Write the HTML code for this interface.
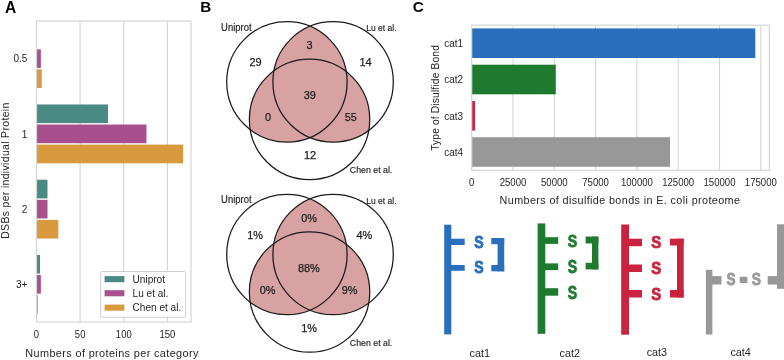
<!DOCTYPE html>
<html><head><meta charset="utf-8"><style>
html,body{margin:0;padding:0;background:#fff;width:784px;height:360px;overflow:hidden}
svg{display:block;will-change:transform}
text{font-family:"Liberation Sans",sans-serif}
</style></head><body>
<svg width="784" height="360" viewBox="0 0 784 360">
<rect width="784" height="360" fill="#fff"/>
<text x="5" y="12.9" font-size="15.6" font-weight="bold" fill="#000">A</text>
<line x1="80.13" y1="21.0" x2="80.13" y2="322.0" stroke="#d5d5d5" stroke-width="1.1"/>
<line x1="123.77" y1="21.0" x2="123.77" y2="322.0" stroke="#d5d5d5" stroke-width="1.1"/>
<line x1="167.40" y1="21.0" x2="167.40" y2="322.0" stroke="#d5d5d5" stroke-width="1.1"/>
<rect x="36.50" y="49.29" width="4.36" height="18.67" fill="#aa4f8d"/>
<rect x="36.50" y="69.36" width="5.24" height="18.67" fill="#d99a3d"/>
<rect x="36.50" y="104.48" width="71.56" height="18.67" fill="#4b8a83"/>
<rect x="36.50" y="124.54" width="109.96" height="18.67" fill="#aa4f8d"/>
<rect x="36.50" y="144.61" width="146.61" height="18.67" fill="#d99a3d"/>
<rect x="36.50" y="179.72" width="11.00" height="18.67" fill="#4b8a83"/>
<rect x="36.50" y="199.79" width="11.00" height="18.67" fill="#aa4f8d"/>
<rect x="36.50" y="219.86" width="21.82" height="18.67" fill="#d99a3d"/>
<rect x="36.50" y="254.97" width="3.49" height="18.67" fill="#4b8a83"/>
<rect x="36.50" y="275.04" width="4.36" height="18.67" fill="#aa4f8d"/>
<rect x="36.50" y="295.11" width="1.40" height="18.67" fill="#d99a3d"/>
<rect x="36.5" y="21.0" width="154.5" height="301.0" fill="none" stroke="#d5d5d5" stroke-width="1.2"/>
<text x="27.4" y="62.33" font-size="10" text-anchor="end" fill="#262626">0.5</text>
<text x="27.4" y="137.57" font-size="10" text-anchor="end" fill="#262626">1</text>
<text x="27.4" y="212.82" font-size="10" text-anchor="end" fill="#262626">2</text>
<text x="27.4" y="288.07" font-size="10" text-anchor="end" fill="#262626">3+</text>
<text transform="translate(36.50,338.4) scale(1,1.12)" font-size="9.5" text-anchor="middle" fill="#262626">0</text>
<text transform="translate(80.13,338.4) scale(1,1.12)" font-size="9.5" text-anchor="middle" fill="#262626">50</text>
<text transform="translate(123.77,338.4) scale(1,1.12)" font-size="9.5" text-anchor="middle" fill="#262626">100</text>
<text transform="translate(167.40,338.4) scale(1,1.12)" font-size="9.5" text-anchor="middle" fill="#262626">150</text>
<text x="25.3" y="356.9" font-size="10.9" letter-spacing="0.37" fill="#262626">Numbers of proteins per category</text>
<text transform="translate(9.2,170.6) rotate(-90)" x="0" y="0" font-size="10.5" letter-spacing="0.32" text-anchor="middle" fill="#262626">DSBs per individual Protein</text>
<rect x="100.7" y="271.5" width="84.9" height="45.8" rx="1.5" fill="#fff" fill-opacity="0.95" stroke="#cfcfcf" stroke-width="1"/>
<rect x="104.6" y="276.1" width="19.8" height="6.1" fill="#4b8a83"/>
<text x="132.6" y="282.7" font-size="10.05" fill="#262626">Uniprot</text>
<rect x="104.6" y="290.2" width="19.8" height="6.1" fill="#aa4f8d"/>
<text x="132.6" y="296.9" font-size="10.05" fill="#262626">Lu et al.</text>
<rect x="104.6" y="304.6" width="19.8" height="6.1" fill="#d99a3d"/>
<text x="132.6" y="310.9" font-size="10.05" fill="#262626">Chen et al.</text>
<text x="200.2" y="12.2" font-size="15.2" font-weight="bold" fill="#000">B</text>
<defs><clipPath id="v0L"><circle cx="286.9" cy="81.9" r="60.2"/></clipPath><clipPath id="v0R"><circle cx="333.1" cy="81.9" r="60.2"/></clipPath></defs>
<g clip-path="url(#v0L)"><circle cx="333.1" cy="81.9" r="60.2" fill="#d9a2a2"/><circle cx="309.55" cy="119.4" r="60.2" fill="#d9a2a2"/></g>
<g clip-path="url(#v0R)"><circle cx="309.55" cy="119.4" r="60.2" fill="#d9a2a2"/></g>
<circle cx="286.9" cy="81.9" r="60.2" fill="none" stroke="#1a1a1a" stroke-width="1.25"/>
<circle cx="333.1" cy="81.9" r="60.2" fill="none" stroke="#1a1a1a" stroke-width="1.25"/>
<circle cx="309.55" cy="119.4" r="60.2" fill="none" stroke="#1a1a1a" stroke-width="1.25"/>
<text x="309.6" y="49.10" font-size="10.9" text-anchor="middle" fill="#1e1e1e" stroke="#1e1e1e" stroke-width="0.25">3</text>
<text x="255.6" y="65.90" font-size="10.9" text-anchor="middle" fill="#1e1e1e" stroke="#1e1e1e" stroke-width="0.25">29</text>
<text x="365.6" y="65.90" font-size="10.9" text-anchor="middle" fill="#1e1e1e" stroke="#1e1e1e" stroke-width="0.25">14</text>
<text x="309.75" y="99.15" font-size="10.9" text-anchor="middle" fill="#1e1e1e" stroke="#1e1e1e" stroke-width="0.25">39</text>
<text x="268" y="121.15" font-size="10.9" text-anchor="middle" fill="#1e1e1e" stroke="#1e1e1e" stroke-width="0.25">0</text>
<text x="350.75" y="121.15" font-size="10.9" text-anchor="middle" fill="#1e1e1e" stroke="#1e1e1e" stroke-width="0.25">55</text>
<text x="310" y="159.20" font-size="10.9" text-anchor="middle" fill="#1e1e1e" stroke="#1e1e1e" stroke-width="0.25">12</text>
<text transform="translate(221.1,30.70) scale(1,1.1)" font-size="9.45" fill="#1e1e1e" stroke="#1e1e1e" stroke-width="0.15">Uniprot</text>
<text transform="translate(366.3,30.90) scale(1,1.1)" font-size="8.5" fill="#1e1e1e" stroke="#1e1e1e" stroke-width="0.15">Lu et al.</text>
<text transform="translate(349.8,173.00) scale(1,1.12)" font-size="8.8" fill="#1e1e1e" stroke="#1e1e1e" stroke-width="0.15">Chen et al.</text>
<defs><clipPath id="v172L"><circle cx="286.9" cy="254.5" r="60.2"/></clipPath><clipPath id="v172R"><circle cx="333.1" cy="254.5" r="60.2"/></clipPath></defs>
<g clip-path="url(#v172L)"><circle cx="333.1" cy="254.5" r="60.2" fill="#d9a2a2"/><circle cx="309.55" cy="292.0" r="60.2" fill="#d9a2a2"/></g>
<g clip-path="url(#v172R)"><circle cx="309.55" cy="292.0" r="60.2" fill="#d9a2a2"/></g>
<circle cx="286.9" cy="254.5" r="60.2" fill="none" stroke="#1a1a1a" stroke-width="1.25"/>
<circle cx="333.1" cy="254.5" r="60.2" fill="none" stroke="#1a1a1a" stroke-width="1.25"/>
<circle cx="309.55" cy="292.0" r="60.2" fill="none" stroke="#1a1a1a" stroke-width="1.25"/>
<text x="309" y="221.90" font-size="10.9" text-anchor="middle" fill="#1e1e1e" stroke="#1e1e1e" stroke-width="0.25">0%</text>
<text x="255" y="239.10" font-size="10.9" text-anchor="middle" fill="#1e1e1e" stroke="#1e1e1e" stroke-width="0.25">1%</text>
<text x="364.4" y="239.10" font-size="10.9" text-anchor="middle" fill="#1e1e1e" stroke="#1e1e1e" stroke-width="0.25">4%</text>
<text x="308.9" y="271.80" font-size="10.9" text-anchor="middle" fill="#1e1e1e" stroke="#1e1e1e" stroke-width="0.25">88%</text>
<text x="267.5" y="293.90" font-size="10.9" text-anchor="middle" fill="#1e1e1e" stroke="#1e1e1e" stroke-width="0.25">0%</text>
<text x="349.5" y="293.90" font-size="10.9" text-anchor="middle" fill="#1e1e1e" stroke="#1e1e1e" stroke-width="0.25">9%</text>
<text x="309.2" y="331.90" font-size="10.9" text-anchor="middle" fill="#1e1e1e" stroke="#1e1e1e" stroke-width="0.25">1%</text>
<text transform="translate(221.1,203.30) scale(1,1.1)" font-size="9.45" fill="#1e1e1e" stroke="#1e1e1e" stroke-width="0.15">Uniprot</text>
<text transform="translate(366.3,203.50) scale(1,1.1)" font-size="8.5" fill="#1e1e1e" stroke="#1e1e1e" stroke-width="0.15">Lu et al.</text>
<text transform="translate(349.8,345.60) scale(1,1.12)" font-size="8.8" fill="#1e1e1e" stroke="#1e1e1e" stroke-width="0.15">Chen et al.</text>
<text x="412.8" y="12.2" font-size="15.2" font-weight="bold" fill="#000">C</text>
<line x1="513.00" y1="25.2" x2="513.00" y2="170.3" stroke="#d5d5d5" stroke-width="1.1"/>
<line x1="554.30" y1="25.2" x2="554.30" y2="170.3" stroke="#d5d5d5" stroke-width="1.1"/>
<line x1="595.60" y1="25.2" x2="595.60" y2="170.3" stroke="#d5d5d5" stroke-width="1.1"/>
<line x1="636.90" y1="25.2" x2="636.90" y2="170.3" stroke="#d5d5d5" stroke-width="1.1"/>
<line x1="678.20" y1="25.2" x2="678.20" y2="170.3" stroke="#d5d5d5" stroke-width="1.1"/>
<line x1="719.50" y1="25.2" x2="719.50" y2="170.3" stroke="#d5d5d5" stroke-width="1.1"/>
<line x1="760.80" y1="25.2" x2="760.80" y2="170.3" stroke="#d5d5d5" stroke-width="1.1"/>
<rect x="471.7" y="28.40" width="283.60" height="29.6" fill="#2a6fbb"/>
<rect x="471.7" y="64.70" width="84.10" height="29.6" fill="#1e7a2f"/>
<rect x="471.7" y="101.00" width="3.30" height="29.6" fill="#c9233f"/>
<rect x="471.7" y="137.20" width="198.30" height="29.6" fill="#989898"/>
<rect x="471.7" y="25.2" width="297.70" height="145.10" fill="none" stroke="#d5d5d5" stroke-width="1.2"/>
<text transform="translate(463.0,47.04) scale(1,1.1)" font-size="9.9" text-anchor="end" fill="#262626">cat1</text>
<text transform="translate(463.0,83.31) scale(1,1.1)" font-size="9.9" text-anchor="end" fill="#262626">cat2</text>
<text transform="translate(463.0,119.59) scale(1,1.1)" font-size="9.9" text-anchor="end" fill="#262626">cat3</text>
<text transform="translate(463.0,155.86) scale(1,1.1)" font-size="9.9" text-anchor="end" fill="#262626">cat4</text>
<text transform="translate(471.70,185.8) scale(1,1.15)" font-size="9.6" text-anchor="middle" fill="#262626">0</text>
<text transform="translate(513.00,185.8) scale(1,1.15)" font-size="9.6" text-anchor="middle" fill="#262626">25000</text>
<text transform="translate(554.30,185.8) scale(1,1.15)" font-size="9.6" text-anchor="middle" fill="#262626">50000</text>
<text transform="translate(595.60,185.8) scale(1,1.15)" font-size="9.6" text-anchor="middle" fill="#262626">75000</text>
<text transform="translate(636.90,185.8) scale(1,1.15)" font-size="9.6" text-anchor="middle" fill="#262626">100000</text>
<text transform="translate(678.20,185.8) scale(1,1.15)" font-size="9.6" text-anchor="middle" fill="#262626">125000</text>
<text transform="translate(719.50,185.8) scale(1,1.15)" font-size="9.6" text-anchor="middle" fill="#262626">150000</text>
<text transform="translate(760.80,185.8) scale(1,1.15)" font-size="9.6" text-anchor="middle" fill="#262626">175000</text>
<text x="499.6" y="204.1" font-size="10.8" letter-spacing="0.38" fill="#262626">Numbers of disulfide bonds in E. coli proteome</text>
<text transform="translate(438.9,97.9) rotate(-90)" font-size="10.3" letter-spacing="0.13" text-anchor="middle" fill="#262626">Type of Disulfide Bond</text>
<rect x="444.20" y="224.70" width="7.10" height="109.70" fill="#2a6fbb"/>
<rect x="451.00" y="238.70" width="13.70" height="6.30" fill="#2a6fbb"/>
<rect x="451.00" y="265.00" width="13.70" height="5.80" fill="#2a6fbb"/>
<text transform="translate(478.95,247.54) scale(0.875,1)" font-size="16.13" font-weight="bold" text-anchor="middle" fill="#2a6fbb" stroke="#2a6fbb" stroke-width="0.75">S</text>
<text transform="translate(478.95,273.24) scale(0.860,1)" font-size="16.41" font-weight="bold" text-anchor="middle" fill="#2a6fbb" stroke="#2a6fbb" stroke-width="0.75">S</text>
<rect x="491.30" y="238.00" width="12.90" height="6.20" fill="#2a6fbb"/>
<rect x="497.60" y="238.00" width="6.60" height="33.30" fill="#2a6fbb"/>
<rect x="491.30" y="265.00" width="12.90" height="6.30" fill="#2a6fbb"/>
<rect x="537.60" y="223.40" width="7.70" height="110.40" fill="#1e7a2f"/>
<rect x="545.00" y="237.20" width="13.20" height="6.70" fill="#1e7a2f"/>
<rect x="545.00" y="263.40" width="13.20" height="6.70" fill="#1e7a2f"/>
<rect x="545.00" y="288.20" width="13.20" height="7.50" fill="#1e7a2f"/>
<text transform="translate(572.55,246.73) scale(0.846,1)" font-size="16.69" font-weight="bold" text-anchor="middle" fill="#1e7a2f" stroke="#1e7a2f" stroke-width="0.75">S</text>
<text transform="translate(572.55,273.42) scale(0.798,1)" font-size="17.68" font-weight="bold" text-anchor="middle" fill="#1e7a2f" stroke="#1e7a2f" stroke-width="0.75">S</text>
<text transform="translate(572.55,299.32) scale(0.798,1)" font-size="17.68" font-weight="bold" text-anchor="middle" fill="#1e7a2f" stroke="#1e7a2f" stroke-width="0.75">S</text>
<rect x="585.60" y="236.60" width="12.80" height="6.80" fill="#1e7a2f"/>
<rect x="592.00" y="236.60" width="6.40" height="32.80" fill="#1e7a2f"/>
<rect x="585.60" y="262.80" width="12.80" height="6.60" fill="#1e7a2f"/>
<rect x="621.20" y="224.50" width="7.80" height="110.20" fill="#c9233f"/>
<rect x="628.70" y="238.70" width="13.30" height="7.50" fill="#c9233f"/>
<rect x="628.70" y="264.50" width="13.30" height="7.50" fill="#c9233f"/>
<rect x="628.70" y="290.00" width="13.30" height="7.50" fill="#c9233f"/>
<text transform="translate(656.20,248.23) scale(0.902,1)" font-size="16.55" font-weight="bold" text-anchor="middle" fill="#c9233f" stroke="#c9233f" stroke-width="0.75">S</text>
<text transform="translate(656.20,274.04) scale(0.933,1)" font-size="15.99" font-weight="bold" text-anchor="middle" fill="#c9233f" stroke="#c9233f" stroke-width="0.75">S</text>
<text transform="translate(656.20,299.54) scale(0.909,1)" font-size="16.41" font-weight="bold" text-anchor="middle" fill="#c9233f" stroke="#c9233f" stroke-width="0.75">S</text>
<rect x="670.00" y="238.70" width="13.70" height="6.80" fill="#c9233f"/>
<rect x="677.00" y="238.70" width="6.70" height="58.80" fill="#c9233f"/>
<rect x="670.00" y="290.00" width="13.70" height="7.50" fill="#c9233f"/>
<rect x="705.90" y="269.80" width="6.50" height="64.70" fill="#989898"/>
<rect x="711.70" y="276.10" width="9.80" height="8.40" fill="#989898"/>
<text transform="translate(730.95,285.04) scale(0.835,1)" font-size="16.13" font-weight="bold" text-anchor="middle" fill="#989898" stroke="#989898" stroke-width="0.75">S</text>
<rect x="739.70" y="276.80" width="7.70" height="6.30" fill="#989898"/>
<text transform="translate(756.45,285.04) scale(0.855,1)" font-size="16.13" font-weight="bold" text-anchor="middle" fill="#989898" stroke="#989898" stroke-width="0.75">S</text>
<rect x="767.70" y="276.10" width="9.80" height="8.40" fill="#989898"/>
<rect x="777.00" y="224.30" width="7.50" height="64.50" fill="#989898"/>
<text x="479.80" y="356.7" font-size="10.8" text-anchor="middle" fill="#262626">cat1</text>
<text x="569.75" y="357" font-size="10.8" text-anchor="middle" fill="#262626">cat2</text>
<text x="656.90" y="356.1" font-size="10.8" text-anchor="middle" fill="#262626">cat3</text>
<text x="740.62" y="356.25" font-size="10.8" text-anchor="middle" fill="#262626">cat4</text>
</svg>
</body></html>
